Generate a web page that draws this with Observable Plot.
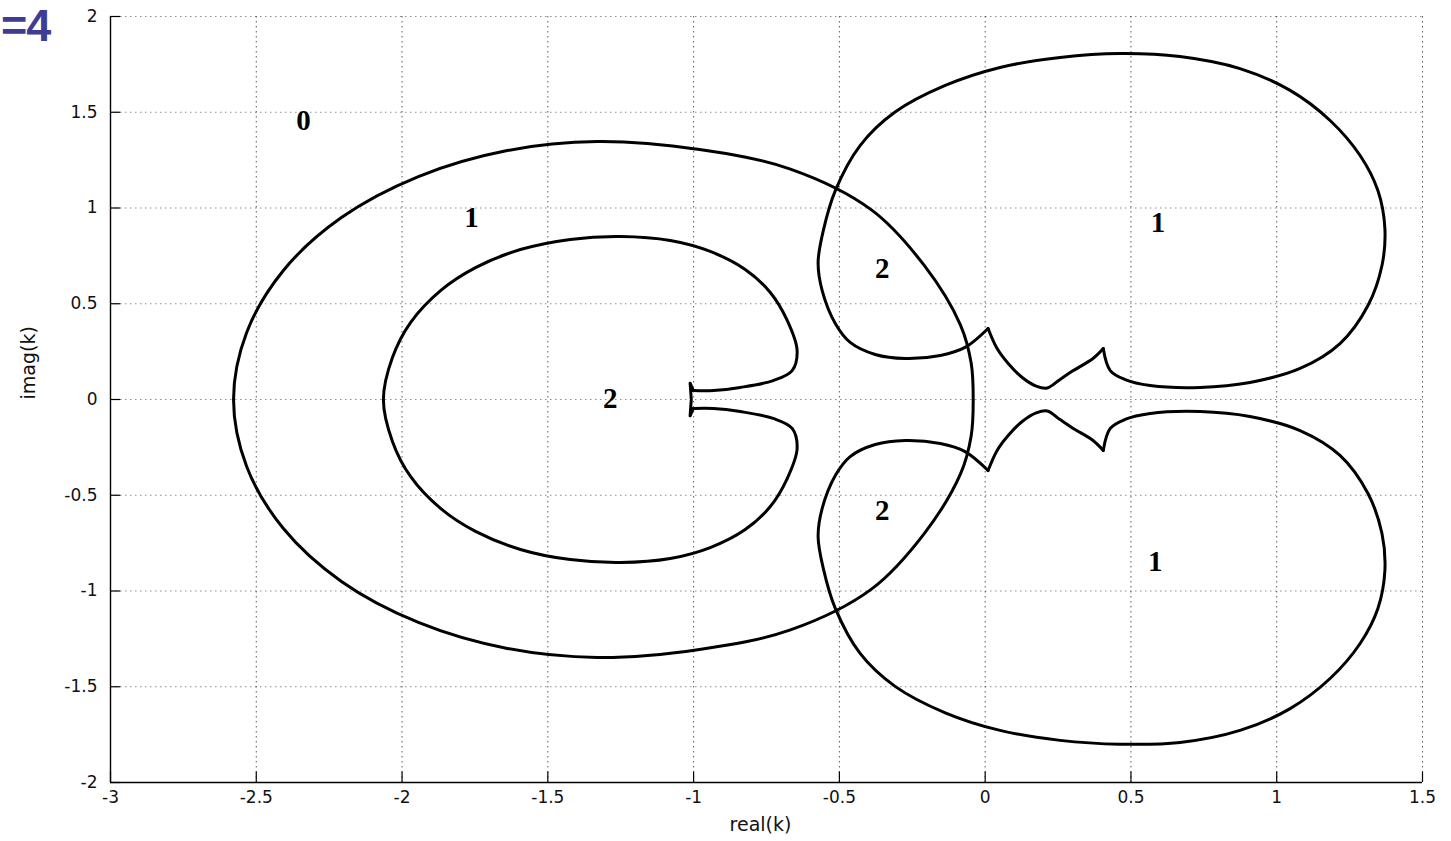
<!DOCTYPE html>
<html>
<head>
<meta charset="utf-8">
<script src="https://cdn.jsdelivr.net/npm/d3@7"></script>
<script src="https://cdn.jsdelivr.net/npm/@observablehq/plot@0.6"></script>
<style>
  html, body { margin: 0; padding: 0; background: #fff; }
  #wrap { position: relative; width: 1451px; height: 841px; overflow: hidden; background: #fff; }
  #tag { position: absolute; left: 1px; top: 0px; font: bold 45px "Liberation Sans", Arial, sans-serif; line-height: normal; color: #3d3d96; letter-spacing: -1px; }
</style>
</head>
<body>
<div id="wrap">
  <div id="chart"></div>
  <div id="tag">=4</div>
</div>
<script>
// Axis ticks
const xTicks = [-3, -2.5, -2, -1.5, -1, -0.5, 0, 0.5, 1, 1.5];
const yTicks = [-2, -1.5, -1, -0.5, 0, 0.5, 1, 1.5, 2];

// Outer closed loop around the left region
const outerLoop = [
  [-2.578, 0], [-2.533, 0.350], [-2.407, 0.674], [-2.208, 0.950], [-1.944, 1.164],
  [-1.639, 1.300], [-1.330, 1.347], [-0.980, 1.305], [-0.668, 1.203], [-0.390, 0.990],
  [-0.209, 0.700], [-0.085, 0.390], [-0.048, 0.190], [-0.041, 0],
  [-0.048, -0.190], [-0.085, -0.390], [-0.209, -0.700], [-0.390, -0.990], [-0.668, -1.203],
  [-0.980, -1.305], [-1.330, -1.347], [-1.639, -1.300], [-1.944, -1.164], [-2.208, -0.950],
  [-2.407, -0.674], [-2.533, -0.350]
];

// Inner loop: smooth arc from the upper arm round to the lower arm
const innerArc = [
  [-1.001, 0.047], [-0.932, 0.047], [-0.840, 0.063], [-0.727, 0.099], [-0.662, 0.151],
  [-0.645, 0.256], [-0.679, 0.413], [-0.737, 0.559], [-0.823, 0.679], [-0.943, 0.773],
  [-1.080, 0.830], [-1.251, 0.851], [-1.423, 0.836], [-1.594, 0.783], [-1.748, 0.689],
  [-1.868, 0.569], [-1.971, 0.402], [-2.033, 0.219], [-2.064, 0],
  [-2.033, -0.219], [-1.971, -0.402], [-1.868, -0.569], [-1.748, -0.689], [-1.594, -0.783],
  [-1.423, -0.836], [-1.251, -0.851], [-1.080, -0.830], [-0.943, -0.773], [-0.823, -0.679],
  [-0.737, -0.559], [-0.679, -0.413], [-0.645, -0.256], [-0.662, -0.151], [-0.727, -0.099],
  [-0.840, -0.063], [-0.932, -0.047], [-1.001, -0.047]
];
// Inner loop: the sharp cusp joining the two arms
const innerCusp = [
  [-1.001, 0.047], [-1.012, 0.085], [-1.008, 0], [-1.012, -0.085], [-1.001, -0.047]
];

// Upper right lobe, from the right cusp round to the left cusp
const upperLobe = [
  [0.405, 0.266], [0.429, 0.151], [0.480, 0.104], [0.566, 0.073], [0.737, 0.063],
  [0.908, 0.089], [1.080, 0.162], [1.217, 0.292], [1.313, 0.491], [1.361, 0.700],
  [1.371, 0.893], [1.347, 1.091], [1.286, 1.274], [1.183, 1.457], [1.046, 1.614],
  [0.874, 1.728], [0.668, 1.791], [0.463, 1.807], [0.257, 1.786], [0.051, 1.734],
  [-0.137, 1.640], [-0.309, 1.501], [-0.429, 1.326], [-0.514, 1.091], [-0.555, 0.883],
  [-0.573, 0.715], [-0.559, 0.569], [-0.514, 0.397], [-0.463, 0.298], [-0.377, 0.235],
  [-0.274, 0.214], [-0.154, 0.230], [-0.069, 0.272], [0.010, 0.371]
];
// Upper bridge between the two cusps
const upperBridge = [
  [0.010, 0.371], [0.041, 0.266], [0.079, 0.188], [0.127, 0.115], [0.175, 0.070],
  [0.213, 0.060], [0.257, 0.105], [0.302, 0.151], [0.370, 0.214], [0.405, 0.266]
];

// Lower right lobe
const lowerLobe = [
  [0.405, -0.266], [0.429, -0.151], [0.480, -0.104], [0.566, -0.073], [0.737, -0.063],
  [0.908, -0.089], [1.080, -0.162], [1.217, -0.292], [1.313, -0.491], [1.361, -0.700],
  [1.371, -0.893], [1.347, -1.091], [1.286, -1.274], [1.183, -1.457], [1.046, -1.614],
  [0.874, -1.728], [0.668, -1.791], [0.463, -1.800], [0.257, -1.780], [0.051, -1.728],
  [-0.137, -1.636], [-0.309, -1.498], [-0.429, -1.326], [-0.514, -1.091], [-0.555, -0.883],
  [-0.573, -0.715], [-0.559, -0.569], [-0.514, -0.397], [-0.463, -0.298], [-0.377, -0.235],
  [-0.274, -0.214], [-0.154, -0.230], [-0.069, -0.272], [0.010, -0.371]
];
// Lower bridge between the two cusps
const lowerBridge = [
  [0.010, -0.371], [0.041, -0.266], [0.079, -0.188], [0.127, -0.115], [0.175, -0.070],
  [0.213, -0.060], [0.257, -0.105], [0.302, -0.151], [0.370, -0.214], [0.405, -0.266]
];

// Region counts written inside the curves
const regionText = ["0", "1", "2", "2", "1", "2", "1"];
const regionX = [-2.338, -1.762, -1.286, -0.353, 0.593, -0.353, 0.583];
const regionY = [1.457, 0.950, 0.005, 0.684, 0.924, -0.580, -0.846];
const regions = regionText.map((t, i) => ({t, x: regionX[i], y: regionY[i]}));

const px = d => d[0], py = d => d[1];
const curveStyle = {x: px, y: py, stroke: "#000", strokeWidth: 3, strokeLinejoin: "round", strokeLinecap: "round"};
const gridStyle = {stroke: "#000", strokeWidth: 1, strokeDasharray: "1.5,3.5"};
const sans = "'DejaVu Sans', Verdana, sans-serif";

// inward tick lengths, in data units
const tickLenX = 0.035, tickLenY = 0.055;

const chart = Plot.plot({
  width: 1451,
  height: 841,
  marginLeft: 110,
  marginRight: 29,
  marginTop: 16,
  marginBottom: 59,
  style: {background: "#fff", fontFamily: sans, fontSize: "17px", color: "#111"},
  x: {domain: [-3, 1.5], ticks: xTicks, tickSize: 0, tickPadding: 8, tickFormat: d => String(d), label: null},
  y: {domain: [-2, 2], ticks: yTicks, tickSize: 0, tickPadding: 13, tickFormat: d => String(d), label: null},
  marks: [
    Plot.ruleX(xTicks, {...gridStyle, strokeOpacity: 0.65}),
    Plot.ruleY(yTicks, {...gridStyle, strokeOpacity: 0.45}),
    Plot.line(outerLoop, {...curveStyle, curve: "catmull-rom-closed"}),
    Plot.line(innerArc, {...curveStyle, curve: "catmull-rom"}),
    Plot.line(innerCusp, {...curveStyle, curve: "linear"}),
    Plot.line(upperLobe, {...curveStyle, curve: "catmull-rom"}),
    Plot.line(upperBridge, {...curveStyle, curve: "catmull-rom"}),
    Plot.line(lowerLobe, {...curveStyle, curve: "catmull-rom"}),
    Plot.line(lowerBridge, {...curveStyle, curve: "catmull-rom"}),
    Plot.ruleX([-3], {stroke: "#000", strokeWidth: 1.4}),
    Plot.ruleY([-2], {stroke: "#000", strokeWidth: 1.4}),
    Plot.ruleX(xTicks, {x: d => d, y1: -2, y2: -2 + tickLenY, stroke: "#000", strokeWidth: 1.2}),
    Plot.ruleY(yTicks, {y: d => d, x1: -3, x2: -3 + tickLenX, stroke: "#000", strokeWidth: 1.2}),
    Plot.text(["real(k)"], {text: d => d, frameAnchor: "bottom", dx: -6, dy: 48, fontFamily: sans, fontSize: 19, fill: "#111"}),
    Plot.text(["imag(k)"], {text: d => d, frameAnchor: "left", dx: -82, rotate: -90, fontFamily: sans, fontSize: 19, fill: "#111"}),
    Plot.text(regions, {x: "x", y: "y", text: "t", fontFamily: "'Liberation Serif', 'Times New Roman', serif", fontWeight: "bold", fontSize: 29, fill: "#000"})
  ]
});
document.getElementById("chart").appendChild(chart);
</script>
</body>
</html>
